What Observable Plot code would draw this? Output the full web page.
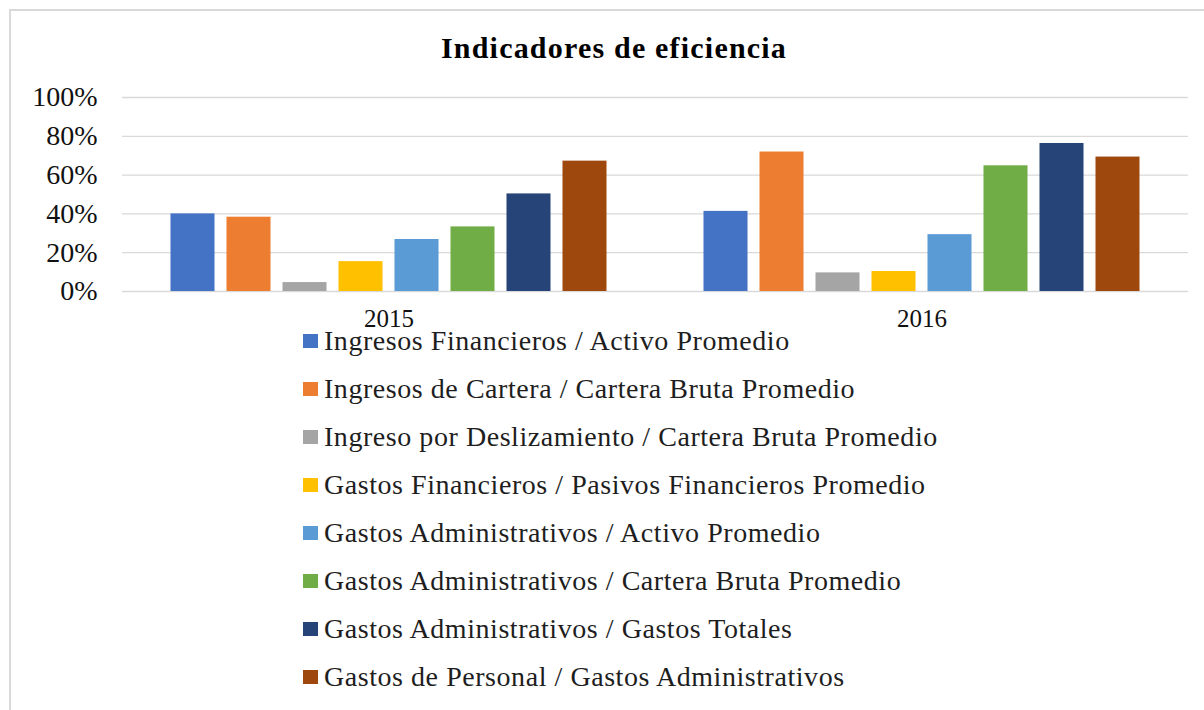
<!DOCTYPE html>
<html>
<head>
<meta charset="utf-8">
<script src="https://cdn.jsdelivr.net/npm/d3@7"></script>
<script src="https://cdn.jsdelivr.net/npm/@observablehq/plot@0.6"></script>
<style>
  html, body { margin: 0; padding: 0; background: #fff; width: 1204px; height: 710px; overflow: hidden; }
  #page { position: relative; width: 1204px; height: 710px; font-family: "Liberation Serif", "Times New Roman", serif; }
  #frame { position: absolute; left: 9px; top: 9px; width: 1240px; height: 760px; border: 2px solid #d9d9d9; box-sizing: border-box; }
  #title { position: absolute; left: 0; width: 1228px; top: 29px; text-align: center; font-weight: bold; font-size: 30px; letter-spacing: 1.2px; line-height: 38px; color: #000; }
  #chart { position: absolute; left: 0; top: 80px; }
  #legend { position: absolute; left: 303px; top: 317px; }
  .item { display: flex; align-items: center; height: 48px; font-size: 28px; line-height: 1; letter-spacing: 0.55px; color: #1e1e1e; white-space: nowrap; }
  .sw { width: 15px; height: 14px; margin-right: 6px; flex: none; }
  #chart [aria-label^="y-axis"] text { font-size: 28px; }
  #chart [aria-label^="fx-axis"] text { font-size: 25px; }
</style>
</head>
<body>
<div id="page">
  <div id="frame"></div>
  <div id="title"></div>
  <div id="chart"></div>
  <div id="legend"></div>
</div>
<script>
const title = "Indicadores de eficiencia";
const years = ["2015", "2016"];
const series = [
  "Ingresos Financieros / Activo Promedio",
  "Ingresos de Cartera / Cartera Bruta Promedio",
  "Ingreso por Deslizamiento / Cartera Bruta Promedio",
  "Gastos Financieros / Pasivos Financieros Promedio",
  "Gastos Administrativos / Activo Promedio",
  "Gastos Administrativos / Cartera Bruta Promedio",
  "Gastos Administrativos / Gastos Totales",
  "Gastos de Personal / Gastos Administrativos"
];
const colors = ["#4472C4", "#ED7D31", "#A5A5A5", "#FFC000", "#5B9BD5", "#70AD47", "#264478", "#9E480E"];
const values2015 = [40.0, 38.3, 4.6, 15.4, 26.8, 33.3, 50.3, 67.2];
const values2016 = [41.3, 71.9, 9.6, 10.3, 29.3, 64.8, 76.3, 69.3];
const yTicks = [0, 0.2, 0.4, 0.6, 0.8, 1.0];

const byYear = [values2015, values2016];
const data = years.flatMap((yr, i) => series.map((s, j) => ({year: yr, series: s, value: byYear[i][j] / 100})));

document.getElementById("title").textContent = title;

const chart = Plot.plot({
  width: 1204,
  height: 250,
  marginLeft: 122,
  marginRight: 16,
  marginTop: 17,
  marginBottom: 39,
  style: {fontFamily: "'Liberation Serif', 'Times New Roman', serif", fontSize: "28px", color: "#111", background: "transparent", overflow: "visible"},
  fx: {domain: years, padding: 0, round: false, label: null, axis: "bottom", tickSize: 0, tickPadding: 18},
  x: {domain: series, paddingInner: 0.214, paddingOuter: 0.866, round: false, axis: null},
  y: {domain: [0, 1], ticks: yTicks, tickFormat: d => Math.round(d * 100) + "%", label: null, tickSize: 0, tickPadding: 25},
  color: {domain: series, range: colors},
  marks: [
    Plot.ruleY(yTicks, {stroke: "#d9d9d9", strokeWidth: 1.3}),
    Plot.barY(data, {fx: "year", x: "series", y: "value", fill: "series"})
  ]
});
document.getElementById("chart").appendChild(chart);

const legend = document.getElementById("legend");
series.forEach((s, i) => {
  const row = document.createElement("div");
  row.className = "item";
  const sw = document.createElement("span");
  sw.className = "sw";
  sw.style.background = colors[i];
  const t = document.createElement("span");
  t.textContent = s;
  row.appendChild(sw);
  row.appendChild(t);
  legend.appendChild(row);
});
</script>
</body>
</html>
